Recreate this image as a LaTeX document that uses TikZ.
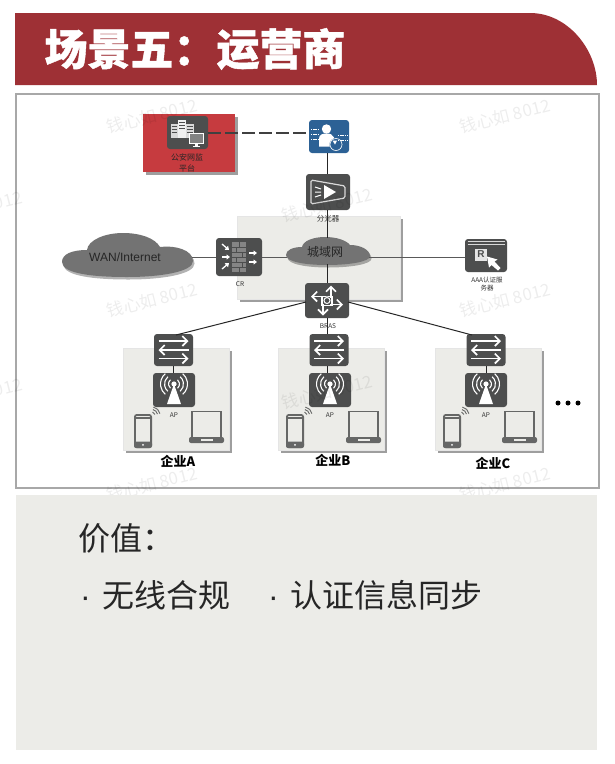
\documentclass[tikz,border=0pt]{standalone}
\usepackage{fontspec}
\setmainfont{Noto Sans CJK SC}
\newfontfamily\latinf{Liberation Sans}
\usetikzlibrary{arrows.meta,shadows}
\definecolor{hdr}{HTML}{9E3035}
\definecolor{icongray}{HTML}{4D4E4E}
\definecolor{panel}{HTML}{ECECE8}
\definecolor{bluei}{HTML}{2C6195}
\definecolor{redb}{HTML}{C63B3F}
\definecolor{cloudg}{HTML}{737373}
\definecolor{frameg}{HTML}{A8A8A8}
\definecolor{devg}{HTML}{666766}
\tikzset{
 softshadow/.style={drop shadow={shadow xshift=3pt,shadow yshift=-3pt,fill=black,opacity=.38}},
 icon/.style={rectangle,rounded corners=3pt,fill=icongray,inner sep=0pt},
 shadowbox/.style={rectangle,fill=panel,draw=black!10,line width=.6pt,inner sep=0pt,softshadow},
 conn/.style={line width=1pt,draw=black!85},
 hub/.style={line width=1.2pt,draw=black!65},
 lbl/.style={inner sep=0pt,align=center,font=\fontsize{6.5pt}{8pt}\selectfont,text=black!80},
 ent/.style={inner sep=0pt,font=\fontsize{13pt}{15pt}\bfseries\selectfont,text=black},
 wm/.style={inner sep=0pt,rotate=14,text=black,opacity=.07,font=\fontsize{17pt}{19pt}\selectfont},
 wline/.style={draw=white,line width=1.7pt},
 cloudshade/.style={fill=cloudg,drop shadow={shadow xshift=1.5pt,shadow yshift=-2.5pt,fill=black,opacity=.3}},
 swglyph/.pic={
   \draw[wline,-{Straight Barb[length=5pt,width=10pt]}] (-15,-9)--(15,-9);
   \draw[wline,-{Straight Barb[length=5pt,width=10pt]}] (15,0)--(-15,0);
   \draw[wline,-{Straight Barb[length=5pt,width=10pt]}] (-15,8.5)--(15,8.5);
 },
 apglyph/.pic={
   \fill[white] (0,-6) -- (-7,14) -- (7,14) -- cycle;
   \fill[white] (0,-6) circle[radius=2.6pt];
   \foreach \r in {5.5,9.5,13.5}{
     \draw[white,line width=1.1pt] (0,-6) ++(-50:\r pt) arc[start angle=-50,end angle=50,radius=\r pt];
     \draw[white,line width=1.1pt] (0,-6) ++(130:\r pt) arc[start angle=130,end angle=230,radius=\r pt];
   }
 },
 phoneglyph/.pic={
   \draw[devg,line width=1.8pt,fill=panel,rounded corners=2pt] (.9,.9) rectangle (17.1,33.1);
   \fill[devg,rounded corners=2pt] (0,27.5) rectangle (18,34);
   \fill[devg] (.8,3) rectangle (17.2,4.5);
   \fill[white] (9,30.8) circle[radius=1pt];
   \foreach \r in {3,5.5,8}{
     \draw[devg,line width=.9pt] (18,1) ++(10:\r pt) arc[start angle=10,end angle=80,radius=\r pt];
   }
 },
 laptopglyph/.pic={
   \draw[devg,line width=1.1pt,fill=panel] (3,.5) rectangle (32,27);
   \fill[devg,rounded corners=2pt] (0,26) rectangle (35,32);
   \fill[panel] (11.5,28) rectangle (23.5,30);
 },
}
\begin{document}
\begin{tikzpicture}[x=1pt,y=-1pt]
\clip (0,0) rectangle (614,764);
\fill[white] (0,0) rectangle (614,764);
% header
\fill[hdr] (15,13) -- (530,13) .. controls (568,13) and (597,50) .. (597,85) -- (15,85) -- cycle;
\node[inner sep=0pt,anchor=center,text=white,font=\fontsize{43pt}{46pt}\bfseries\addfontfeature{FakeBold=1}\selectfont] (title) at (195,49) {场景五：运营商};
% frame
\draw[frameg,line width=1.2pt,fill=white] (16,94) rectangle (599,488);
% grey areas
\node[shadowbox,minimum width=163pt,minimum height=83pt] (metro) at (318.5,257.5) {};
\node[shadowbox,minimum width=106pt,minimum height=102pt] (entA) at (176,399) {};
\node[shadowbox,minimum width=106pt,minimum height=102pt] (entB) at (331,399) {};
\node[shadowbox,minimum width=106pt,minimum height=102pt] (entC) at (488,399) {};
% red box
\node[rectangle,fill=redb,inner sep=0pt,minimum width=92pt,minimum height=58pt,softshadow] (redbox) at (189,142.5) {};
% clouds
\path[cloudshade] (62,262) .. controls (62,254) and (72,250) .. (87,250) .. controls (88,240) and (105,233) .. (123,233) .. controls (140,233) and (155,238) .. (160,247) .. controls (175,245) and (193,250) .. (193,261) .. controls (193,272) and (160,277) .. (127,277) .. controls (95,277) and (62,274) .. (62,262) -- cycle;
\path[cloudshade] (286,255) .. controls (286,250) and (293,247) .. (302,247) .. controls (303,241) and (313,237) .. (325,237) .. controls (336,237) and (346,240) .. (350,245) .. controls (361,245) and (370,250) .. (370,256) .. controls (370,262) and (348,265) .. (327,265) .. controls (306,265) and (286,262) .. (286,255) -- cycle;
\node[inner sep=0pt,text=black!85,font=\latinf\fontsize{12pt}{14pt}\selectfont] (wan) at (125,257) {WAN/Internet};
\node[inner sep=0pt,text=black!85,font=\fontsize{12pt}{14pt}\selectfont] (metroc) at (325,252) {城域网};
\coordinate (wanE) at (192,257.5);
\coordinate (metroW) at (287,257.5);
\coordinate (metroE) at (369,257.5);
\coordinate (metroN) at (327,238);
\coordinate (metroS) at (327,264);
% devices
\node[icon,minimum width=41pt,minimum height=33pt] (police) at (187.5,132.5) {};
\node[icon,fill=bluei,minimum width=40pt,minimum height=33pt] (probe) at (329,136.5) {};
\node[icon,minimum width=44pt,minimum height=36pt] (split) at (328,192) {};
\node[icon,minimum width=46pt,minimum height=38pt] (cr) at (239,257) {};
\node[icon,minimum width=42pt,minimum height=33pt] (aaa) at (486,255.5) {};
\node[icon,minimum width=44pt,minimum height=35pt] (bras) at (327,300.5) {};
\node[icon,minimum width=39pt,minimum height=32pt] (swA) at (173.5,350) {};
\node[icon,minimum width=39pt,minimum height=32pt] (swB) at (329,350) {};
\node[icon,minimum width=39pt,minimum height=32pt] (swC) at (486,350) {};
\node[icon,minimum width=42pt,minimum height=34pt] (apA) at (174,390) {};
\node[icon,minimum width=42pt,minimum height=34pt] (apB) at (330,390) {};
\node[icon,minimum width=42pt,minimum height=34pt] (apC) at (486,390) {};
\coordinate (spine) at (327,0);
\coordinate (brasL1) at (306,302);
\coordinate (brasR1) at (348,302);
\coordinate (swAin) at (176,335);
\coordinate (swCin) at (472,335);
% connectors
\draw[line width=1.1pt,dash pattern=on 13pt off 4pt,draw=black!75] (police.east |- 0,133) -- (probe.west |- 0,133);
\draw[conn] (probe.south -| spine) -- (split.north -| spine);
\draw[conn] (split.south -| spine) -- (metroN);
\draw[conn] (metroS) -- (bras.north -| spine);
\draw[hub] (wanE) -- (cr.west |- wanE);
\draw[hub] (cr.east |- wanE) -- (metroW);
\draw[hub] (metroE) -- (aaa.west |- metroE);
\draw[conn] (bras.south -| spine) -- (swB.north -| spine);
\draw[conn] (swA.south) -- (apA.north -| swA);
\draw[conn] (swB.south -| spine) -- (apB.north -| spine);
\draw[conn] (swC.south) -- (apC.north);
\draw[conn] (brasL1) -- (swAin);
\draw[conn] (brasR1) -- (swCin);
% glyphs: switches and APs
\pic at (swA) {swglyph}; \pic at (swB) {swglyph}; \pic at (swC) {swglyph};
\pic at (apA) {apglyph}; \pic at (apB) {apglyph}; \pic at (apC) {apglyph};
\pic at (134,414) {phoneglyph}; \pic at (286,414) {phoneglyph}; \pic at (443,414) {phoneglyph};
\pic at (189,411) {laptopglyph}; \pic at (346,411) {laptopglyph}; \pic at (502,411) {laptopglyph};
% police servers
\begin{scope}[shift={(police.center)}]
 \fill[black!15] (-17,-9) rectangle (-10,5);
 \fill[black!6] (-9.5,-13) rectangle (-2,5);
 \fill[black!15] (-1.5,-9) rectangle (6,5);
 \foreach \y in {-6,-3,0}{\draw[icongray,line width=.6pt] (-16,\y) -- (-11,\y);\draw[icongray,line width=.6pt] (-.5,\y) -- (5,\y);}
 \foreach \y in {-10,-7,-4}{\draw[icongray,line width=.6pt] (-8.5,\y) -- (-3,\y);}
 \draw[white,line width=1pt,fill=icongray!70] (1.5,.5) rectangle (16,10.5);
 \fill[white] (7,10.5) rectangle (10.5,13);
 \fill[white] (5,13) rectangle (12.5,14.2);
\end{scope}
% blue person
\begin{scope}[shift={(probe.center)}]
 \fill[white] (-2.5,-7.5) circle[radius=4.7pt];
 \fill[white] (-10,10) -- (-10,2) .. controls (-10,-2) and (-6,-3) .. (-2.5,-3) .. controls (1,-3) and (4,-2) .. (5,1) -- (5,10) -- cycle;
 \fill[bluei] (7,8) circle[radius=6.5pt];
 \draw[white,line width=.6pt] (7,8) circle[radius=6pt];
 \fill[white] (3.5,4) -- (8,4) -- (6,8) -- cycle;
 \foreach \y in {-7,-2,3}{\draw[white,line width=1pt,dash pattern=on 1.4pt off .8pt] (-18,\y) -- (-11,\y);}
 \foreach \y in {-1,4}{\draw[white,line width=1pt,dash pattern=on 1.4pt off .8pt] (9,\y) -- (18,\y);}
\end{scope}
% splitter
\begin{scope}[shift={(split.center)}]
 \draw[white!85!black,line width=1.2pt,rounded corners=1.5pt] (-17,-12) -- (17,-6) -- (17,6) -- (-17,12) -- cycle;
 \fill[white] (-4,-7) -- (8,0) -- (-4,7) -- cycle;
 \draw[white,line width=1pt] (-13,-5) -- (-7,-3) (-13,0) -- (-7,0) (-13,5) -- (-7,3);
\end{scope}
% CR firewall
\begin{scope}[shift={(cr.center)}]
 \fill[black!48] (-7,-15) rectangle (7,15);
 \foreach \y in {-10,-5,0,5,10}{\draw[icongray,line width=.6pt] (-7,\y) -- (7,\y);}
 \draw[icongray,line width=.6pt] (0,-15) -- (0,-10) (-3,-10) -- (-3,-5) (3,-5) -- (3,0) (-3,0) -- (-3,5) (3,5) -- (3,10) (0,10) -- (0,15);
 \foreach \a/\b/\c/\d in {-17/-13/-10/-7,-17/0/-9/0,-17/12/-10/6,10/-4/18/-4,10/5/18/5}{
   \draw[white,line width=1.3pt,-{Triangle[length=3.5pt,width=5pt]}] (\a,\b) -- (\c,\d);}
\end{scope}
% AAA
\begin{scope}[shift={(aaa.center)}]
 \draw[white!85!black,line width=.8pt] (-18.5,-14) -- (18.5,-14) (-18.5,-11) -- (18.5,-11);
 \node[rectangle,fill=white!90!black,inner sep=0pt,minimum width=12pt,minimum height=12pt,text=icongray,font=\latinf\fontsize{10pt}{10pt}\bfseries\selectfont] (rbox) at (-5,-1) {R};
 \fill[white] (1,1) -- (3,12) -- (5.5,9.5) -- (12,15) -- (14.5,12.5) -- (8.5,6) -- (11.5,4) -- cycle;
\end{scope}
% BRAS
\begin{scope}[shift={(bras.center)}]
 \draw[white,line width=1.5pt] (-5,-4) rectangle (5,5);
 \fill[icongray] (0,0) circle[radius=4pt];
 \draw[white,line width=1pt] (0,0) circle[radius=3pt];
 \foreach \a/\b/\c/\d in {4/-3/4/-15,3/4/16/4,-4/3/-4/15,-3/-4/-16/-4}{
   \draw[white,line width=1.6pt,-{Straight Barb[length=5pt,width=10pt]}] (\a,\b) -- (\c,\d);}
\end{scope}
% labels
\node[lbl,font=\fontsize{8pt}{11pt}\selectfont,text=black!85] (policeL) at (187,162.5) {公安网监\\平台};
\node[lbl,font=\fontsize{7.5pt}{9pt}\selectfont] (splitL) at (328,219) {分光器};
\node[lbl] (crL) at (240,284) {CR};
\node[lbl] (aaaL) at (487,284) {AAA认证服\\务器};
\node[lbl] (brasL) at (328,326) {BRAS};
\node[lbl] (apLA) at (174,415) {AP};
\node[lbl] (apLB) at (330,415) {AP};
\node[lbl] (apLC) at (486,415) {AP};
\node[ent] (nameA) at (178,461) {企业A};
\node[ent] (nameB) at (333,460) {企业B};
\node[ent] (nameC) at (493,463) {企业C};
\fill[black] (558,403) circle[radius=2.5pt] (568,403) circle[radius=2.5pt] (578,403) circle[radius=2.5pt];
% watermarks
\foreach \n/\x/\y in {a/152/116,b/505/116,c/327/205,d/-23/208,e/152/300,f/505/300,g/327/392,h/-23/395,i/152/484,j/505/484}{
  \node[wm] (wm\n) at (\x,\y) {钱心如 8012};
}
% value panel
\fill[panel] (16,495) rectangle (597,750);
\node[anchor=west,inner sep=0pt,text=black!85,font=\fontsize{32pt}{36pt}\selectfont] (val) at (78,538) {价值：};
\node[anchor=west,inner sep=0pt,text=black!85,font=\fontsize{32pt}{36pt}\selectfont] (v1) at (80,595) {{\latinf ·}\hspace{11.4pt}无线合规};
\node[anchor=west,inner sep=0pt,text=black!85,font=\fontsize{32pt}{36pt}\selectfont] (v2) at (268,595) {{\latinf ·}\hspace{11.4pt}认证信息同步};
\end{tikzpicture}
\end{document}
